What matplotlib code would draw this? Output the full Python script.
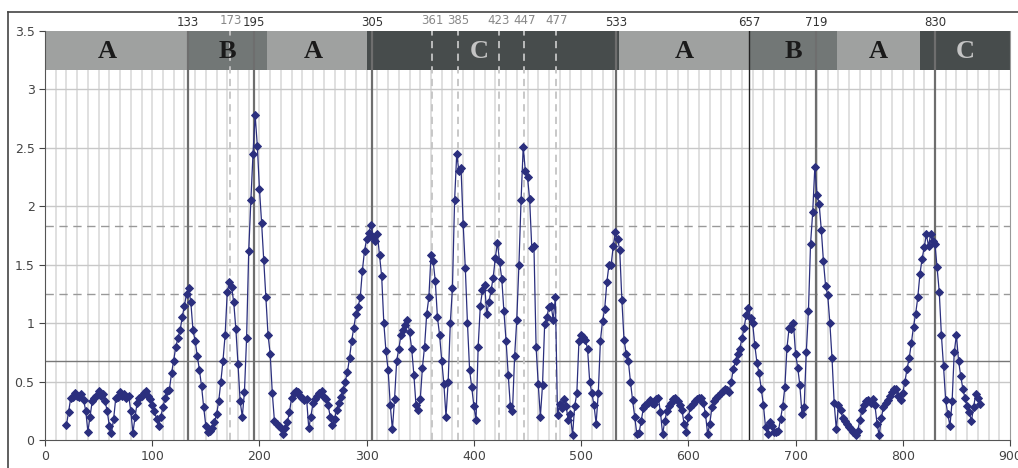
import numpy as np
import matplotlib.pyplot as plt
from matplotlib.patches import Rectangle
from matplotlib.lines import Line2D
import matplotlib.transforms as mtransforms

# signal sampled every 2 frames, starting at frame 20
x_start = 20
x_step = 2
values = [
    0.13, 0.24, 0.36, 0.37, 0.40, 0.38, 0.37, 0.39, 0.34, 0.25,   # 20-38
    0.07, 0.20, 0.33, 0.36, 0.38, 0.42, 0.38, 0.39, 0.33, 0.25,   # 40-58
    0.12, 0.06, 0.18, 0.36, 0.37, 0.41, 0.38, 0.39, 0.36, 0.38,   # 60-78
    0.25, 0.06, 0.20, 0.32, 0.36, 0.38, 0.40, 0.42, 0.38, 0.35,   # 80-98
    0.30, 0.25, 0.18, 0.12, 0.20, 0.28, 0.36, 0.42, 0.43, 0.57,   # 100-118
    0.68, 0.80, 0.87, 0.94, 1.05, 1.15, 1.25, 1.30, 1.18, 0.94,   # 120-138
    0.85, 0.72, 0.60, 0.46, 0.28, 0.12, 0.07, 0.08, 0.10, 0.15,   # 140-158
    0.22, 0.33, 0.50, 0.68, 0.90, 1.27, 1.35, 1.31, 1.18, 0.95,   # 160-178
    0.65, 0.33, 0.20, 0.41, 0.87, 1.62, 2.05, 2.45, 2.78, 2.52,   # 180-198
    2.15, 1.86, 1.54, 1.22, 0.90, 0.74, 0.40, 0.16, 0.14, 0.12,   # 200-218
    0.10, 0.05, 0.10, 0.15, 0.24, 0.36, 0.40, 0.42, 0.41, 0.38,   # 220-238
    0.36, 0.34, 0.35, 0.10, 0.20, 0.32, 0.35, 0.38, 0.40, 0.42,   # 240-258
    0.37, 0.35, 0.30, 0.20, 0.13, 0.18, 0.26, 0.32, 0.37, 0.43,   # 260-278
    0.50, 0.58, 0.70, 0.85, 0.96, 1.08, 1.14, 1.22, 1.45, 1.62,   # 280-298
    1.72, 1.77, 1.84, 1.74, 1.70, 1.76, 1.58, 1.40, 1.00, 0.76,   # 300-318
    0.60, 0.30, 0.09, 0.35, 0.68, 0.78, 0.90, 0.94, 0.98, 1.03,   # 320-338
    0.92, 0.78, 0.56, 0.30, 0.26, 0.35, 0.62, 0.80, 1.08, 1.22,   # 340-358
    1.58, 1.53, 1.36, 1.05, 0.90, 0.68, 0.48, 0.20, 0.50, 1.00,   # 360-378
    1.30, 2.05, 2.45, 2.30, 2.33, 1.85, 1.47, 1.00, 0.60, 0.45,   # 380-398
    0.29, 0.17, 0.80, 1.15, 1.28, 1.33, 1.08, 1.18, 1.28, 1.39,   # 400-418
    1.56, 1.69, 1.52, 1.38, 1.10, 0.85, 0.56, 0.29, 0.25, 0.72,   # 420-438
    1.03, 1.50, 2.05, 2.51, 2.30, 2.25, 2.06, 1.64, 1.66, 0.80,   # 440-458
    0.48, 0.20, 0.47, 0.99, 1.05, 1.14, 1.15, 1.03, 1.22, 0.21,   # 460-478
    0.31, 0.27, 0.35, 0.29, 0.17, 0.22, 0.04, 0.29, 0.40, 0.85,   # 480-498
    0.90, 0.88, 0.86, 0.78, 0.50, 0.40, 0.30, 0.14, 0.40, 0.85,   # 500-518
    1.02, 1.12, 1.35, 1.50, 1.50, 1.66, 1.78, 1.72, 1.63, 1.20,   # 520-538
    0.86, 0.74, 0.68, 0.50, 0.34, 0.20, 0.05, 0.06, 0.16, 0.27,   # 540-558
    0.30, 0.32, 0.34, 0.32, 0.31, 0.35, 0.36, 0.24, 0.05, 0.16,   # 560-578
    0.25, 0.29, 0.32, 0.35, 0.36, 0.33, 0.30, 0.26, 0.14, 0.07,   # 580-598
    0.20, 0.28, 0.31, 0.33, 0.35, 0.36, 0.36, 0.32, 0.22, 0.05,   # 600-618
    0.14, 0.28, 0.33, 0.36, 0.38, 0.40, 0.42, 0.44, 0.43, 0.41,   # 620-638
    0.50, 0.61, 0.68, 0.74, 0.78, 0.87, 0.96, 1.07, 1.13, 1.04,   # 640-658
    1.00, 0.81, 0.66, 0.57, 0.44, 0.30, 0.11, 0.05, 0.15, 0.12,   # 660-678
    0.07, 0.07, 0.08, 0.18, 0.29, 0.45, 0.79, 0.96, 0.95, 1.00,   # 680-698
    0.74, 0.62, 0.47, 0.22, 0.28, 0.75, 1.10, 1.68, 1.95, 2.34,   # 700-718
    2.10, 2.02, 1.80, 1.53, 1.32, 1.24, 1.00, 0.70, 0.32, 0.09,   # 720-738
    0.30, 0.26, 0.19, 0.16, 0.14, 0.11, 0.09, 0.07, 0.04, 0.08,   # 740-758
    0.17, 0.26, 0.30, 0.33, 0.34, 0.32, 0.35, 0.30, 0.14, 0.04,   # 760-778
    0.19, 0.28, 0.32, 0.34, 0.38, 0.41, 0.44, 0.44, 0.38, 0.34,   # 780-798
    0.40, 0.50, 0.61, 0.70, 0.83, 0.97, 1.08, 1.22, 1.42, 1.55,   # 800-818
    1.65, 1.76, 1.66, 1.76, 1.70, 1.68, 1.48, 1.27, 0.90, 0.63,   # 820-838
    0.34, 0.22, 0.12, 0.33, 0.75, 0.90, 0.68, 0.55, 0.44, 0.36,   # 840-858
    0.29, 0.24, 0.16, 0.28, 0.39, 0.36, 0.31,                     # 860-872
]
frames = x_start + x_step * np.arange(len(values))

# phase bands on top
band_start = [0, 133, 207, 300, 535, 657, 739, 816]
band_end = [133, 207, 300, 535, 657, 739, 816, 900]
band_label = ['A', 'B', 'A', 'C', 'A', 'B', 'A', 'C']
band_label_x = [58, 170, 250, 405, 596, 698, 777, 858]
band_color = {'A': '#9fa1a0', 'B': '#727776', 'C': '#474c4c'}
band_text_color = {'A': '#1a1a1a', 'B': '#1a1a1a', 'C': '#c4c4c4'}

# event markers
solid_events = [133, 195, 305, 533, 657, 719, 830]
dashed_events = [173, 361, 385, 423, 447, 477]

# thresholds
level_solid = 0.68
level_dashed = [1.25, 1.83]

fig = plt.figure(figsize=(10.18, 4.68), dpi=100)
ax = fig.add_axes([45 / 1018, 1 - 440 / 468, 965 / 1018, 409 / 468])

ax.set_xlim(0, 900)
ax.set_ylim(0, 3.5)
ax.set_xticks(np.arange(0, 901, 100))
ax.set_yticks(np.arange(0, 3.51, 0.5))
ax.set_yticklabels(['0', '0.5', '1', '1.5', '2', '2.5', '3', '3.5'])
ax.tick_params(axis='both', labelsize=9, colors='#444444', length=4)

# grid
for gx in np.arange(10, 900, 10):
    ax.axvline(gx, color='#e0e0e0', lw=1.4, zorder=0)
for gy in np.arange(0.5, 3.5, 0.5):
    ax.axhline(gy, color='#c8c8c8', lw=1, zorder=0)

# bands
band_bottom = 3.17
for s, e, lab, lx in zip(band_start, band_end, band_label, band_label_x):
    ax.add_patch(Rectangle((s, band_bottom), e - s, 3.5 - band_bottom,
                           facecolor=band_color[lab], edgecolor='none', zorder=2))
    ax.text(lx, (band_bottom + 3.5) / 2 - 0.01, lab, ha='center', va='center',
            fontsize=19, fontweight='bold', family='Liberation Serif',
            color=band_text_color[lab], zorder=5)

# thresholds
ax.axhline(level_solid, color='#777777', lw=1, zorder=1)
for lv in level_dashed:
    ax.axhline(lv, color='#999999', lw=1, dashes=(6, 4), zorder=1)

# event lines and labels
top_trans = mtransforms.blended_transform_factory(ax.transData, ax.transAxes)
for ev in solid_events:
    if ev == 657:
        ax.axvline(ev, color='#222222', lw=1, zorder=3)
    else:
        ax.axvline(ev, color='#6e6e6e', lw=1.6, zorder=3)
    ax.text(ev, 1.022, str(ev), transform=top_trans, ha='center', va='center',
            fontsize=8.5, color='#333333')
for ev in dashed_events:
    ax.axvline(ev, color='#c4c4c4', lw=1.3, dashes=(4, 3), zorder=3)
    ax.text(ev, 1.025, str(ev), transform=top_trans, ha='center', va='center',
            fontsize=8.5, color='#888888')

# data series
ax.plot(frames, values, color='#2b2f7e', lw=0.9, marker='D', markersize=3.8,
        markeredgewidth=0.7, markeredgecolor='#2b2f7e', zorder=4)

for side in ['left', 'bottom']:
    ax.spines[side].set_color('#555555')
ax.spines['right'].set_color('#999999')
ax.spines['top'].set_visible(False)

# outer frame
fig.add_artist(Line2D([8 / 1018, 1], [1 - 12 / 468, 1 - 12 / 468],
                      color='#444444', lw=1.2, transform=fig.transFigure))
fig.add_artist(Line2D([8 / 1018, 8 / 1018], [0, 1 - 12 / 468],
                      color='#444444', lw=1.2, transform=fig.transFigure))

fig.savefig('out.png', dpi=100)
